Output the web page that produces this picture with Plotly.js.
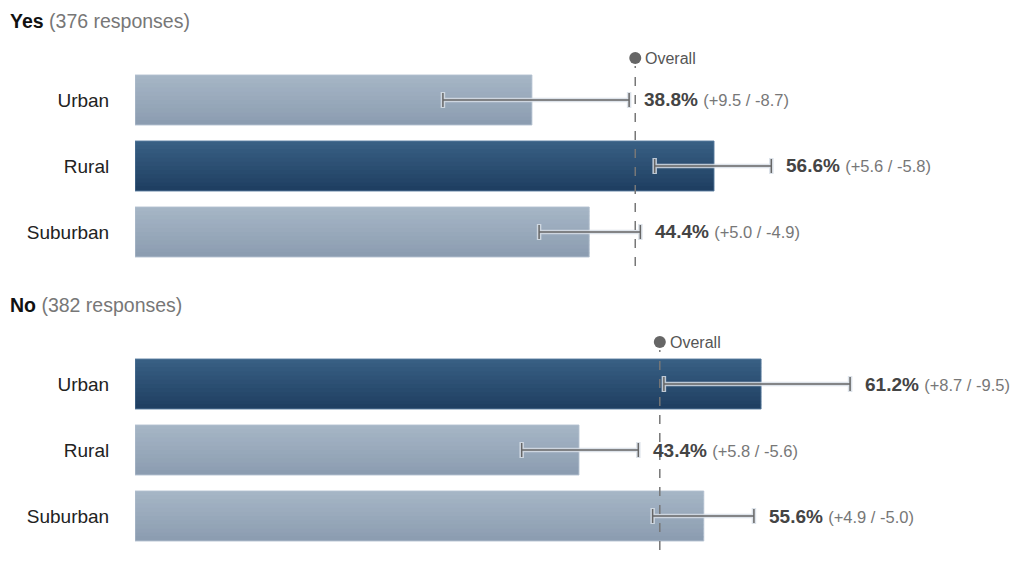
<!DOCTYPE html>
<html>
<head>
<meta charset="utf-8">
<script src="https://cdn.plot.ly/plotly-3.0.1.min.js"></script>
<style>html,body{margin:0;padding:0;background:#fff;}#chart{width:1024px;height:566px;}</style>
</head>
<body>
<div id="chart"></div>
<script>
const categories = ["Urban", "Rural", "Suburban"];
const panelNames = ["Yes", "No"];
const panelResponses = [376, 382];
const yesValues = [38.8, 56.6, 44.4];
const yesPlus = [9.5, 5.6, 5.0];
const yesMinus = [8.7, 5.8, 4.9];
const yesOverall = 48.9;
const noValues = [61.2, 43.4, 55.6];
const noPlus = [8.7, 5.8, 4.9];
const noMinus = [9.5, 5.6, 5.0];
const noOverall = 51.3;

const H = 566;
const panels = [
  {name: panelNames[0], n: panelResponses[0], vals: yesValues, plus: yesPlus, minus: yesMinus, overall: yesOverall, yaxis: 'y', yref: 'y', titleY: 1 - 21/H, overallY: 1 - 58/H},
  {name: panelNames[1], n: panelResponses[1], vals: noValues, plus: noPlus, minus: noMinus, overall: noOverall, yaxis: 'y2', yref: 'y2', titleY: 1 - 305/H, overallY: 1 - 342/H}
];

const ypos = categories.map((c, i) => i);
const barW = 50/66;
const N = 12;
const lightTop = [166, 182, 198], lightBot = [139, 156, 176];
const darkTop = [57, 96, 133], darkBot = [30, 62, 96];
function mix(a, b, t) { return 'rgb(' + a.map((v, i) => Math.round(v + (b[i] - v) * t)).join(',') + ')'; }

const traces = [];
const annotations = [];
const shapes = [];

panels.forEach(p => {
  const maxV = Math.max(...p.vals);
  for (let k = 0; k < N; k++) {
    const t = (k + 0.5) / N;
    traces.push({
      type: 'bar', orientation: 'h', x: p.vals, y: ypos, yaxis: p.yaxis, xaxis: 'x',
      base: 0, width: barW / N * 1.2, offset: -barW/2 + k * barW / N - (k === N-1 ? barW/N*0.2 : 0),
      marker: {color: p.vals.map(v => v === maxV ? mix(darkTop, darkBot, t) : mix(lightTop, lightBot, t)), line: {width: 0}},
      hoverinfo: 'skip', showlegend: false
    });
  }
  traces.push({
    type: 'bar', orientation: 'h', x: p.vals, y: ypos, yaxis: p.yaxis, xaxis: 'x', width: barW,
    marker: {color: 'rgba(0,0,0,0)', line: {width: 1, color: p.vals.map(v => v === maxV ? 'rgba(90,125,160,0.9)' : 'rgba(180,193,208,0.9)')}},
    hoverinfo: 'skip', showlegend: false
  });
  traces.push({
    type: 'scatter', mode: 'markers', x: p.vals, y: ypos, yaxis: p.yaxis, xaxis: 'x',
    marker: {size: 1, opacity: 0},
    error_x: {type: 'data', symmetric: false, array: p.plus, arrayminus: p.minus, color: 'rgba(215,222,230,0.85)', thickness: 4.5, width: 8},
    hoverinfo: 'skip', showlegend: false, cliponaxis: false
  });
  traces.push({
    type: 'scatter', mode: 'markers', x: p.vals, y: ypos, yaxis: p.yaxis, xaxis: 'x',
    marker: {size: 1, opacity: 0},
    error_x: {type: 'data', symmetric: false, array: p.plus, arrayminus: p.minus, color: '#666', thickness: 1.5, width: 7},
    hoverinfo: 'skip', showlegend: false, cliponaxis: false
  });
  shapes.push({
    type: 'circle', xref: 'x', yref: 'paper', xsizemode: 'pixel', ysizemode: 'pixel',
    xanchor: p.overall, yanchor: p.overallY, x0: -6, x1: 6, y0: -6, y1: 6,
    fillcolor: '#666', line: {width: 0}, layer: 'above'
  });
  annotations.push({
    xref: 'x', yref: 'paper', x: p.overall, y: p.overallY, xshift: 8, xanchor: 'left', yanchor: 'middle',
    text: 'Overall', showarrow: false, font: {size: 16, color: '#555'}
  });
  shapes.push({
    type: 'line', xref: 'x', yref: p.yref + ' domain', x0: p.overall, x1: p.overall, y0: -0.005, y1: 1.005,
    line: {color: '#777', width: 1.5, dash: 'dash'}, layer: 'above'
  });
  p.vals.forEach((v, i) => {
    annotations.push({
      xref: 'x', yref: p.yref, x: v + p.plus[i], y: i, xshift: 13, xanchor: 'left', yanchor: 'middle',
      text: '<b>' + v.toFixed(1) + '%</b> <span style="font-size:16.5px;color:#777">(+' + p.plus[i].toFixed(1) + ' / -' + p.minus[i].toFixed(1) + ')</span>',
      showarrow: false, font: {size: 19, color: '#444'}
    });
  });
  annotations.push({
    xref: 'paper', yref: 'paper', x: 0, xshift: -127, y: p.titleY, xanchor: 'left', yanchor: 'middle',
    text: '<b>' + p.name + '</b> <span style="color:#777">(' + p.n + ' responses)</span>',
    showarrow: false, font: {size: 19.5, color: '#111'}
  });
});

const yaxisCommon = {
  tickvals: ypos, ticktext: categories, range: [2.5, -0.5], showgrid: false, zeroline: false,
  showline: false, ticks: 'outside', ticklen: 21, tickcolor: 'rgba(0,0,0,0)',
  tickfont: {size: 19, color: '#222'}, fixedrange: true
};

const layout = {
  width: 1024, height: 566,
  margin: {l: 135, r: 0, t: 0, b: 0},
  paper_bgcolor: '#fff', plot_bgcolor: '#fff',
  font: {family: '"Liberation Sans", Arial, Helvetica, sans-serif'},
  barmode: 'overlay', showlegend: false,
  xaxis: {range: [0, 889/10.23], visible: false, fixedrange: true},
  yaxis: Object.assign({}, yaxisCommon, {domain: [1 - 265/H, 1 - 67/H], anchor: 'x'}),
  yaxis2: Object.assign({}, yaxisCommon, {domain: [1 - 549/H, 1 - 351/H], anchor: 'x'}),
  annotations: annotations,
  shapes: shapes
};

Plotly.newPlot('chart', traces, layout, {displayModeBar: false, staticPlot: true});
</script>
</body>
</html>
